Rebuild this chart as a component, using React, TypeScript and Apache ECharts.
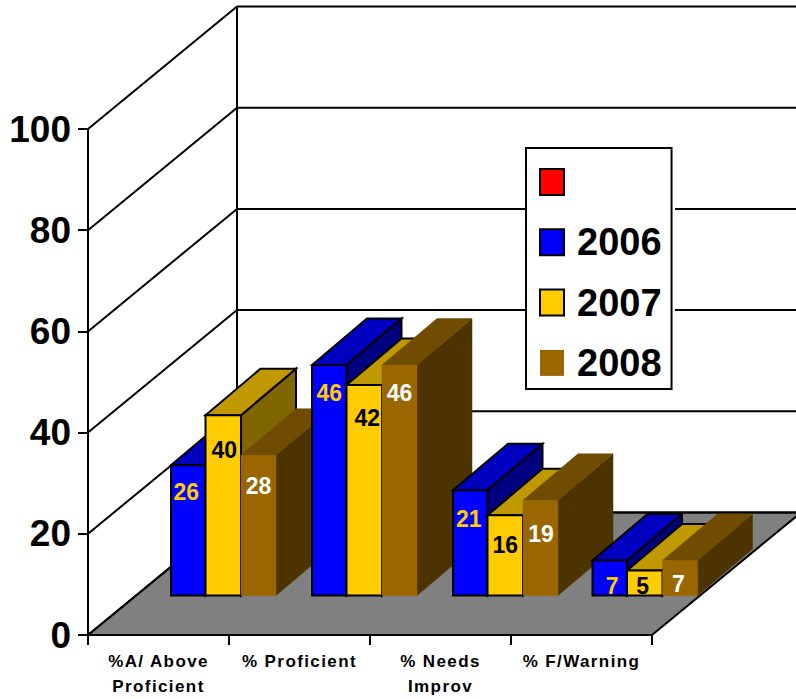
import React, { useEffect, useRef } from "react";
import * as echarts from "echarts";

const categories = ["%A/ Above\nProficient", "% Proficient", "% Needs\nImprov", "% F/Warning"];
const legendBlank = " ";
const seriesNames = ["2006", "2007", "2008"];
const values2006 = [26, 46, 21, 7];
const values2007 = [36, 42, 16, 5];
const values2008 = [28, 46, 19, 7];
const labels2006 = ["26", "46", "21", "7"];
const labels2007 = ["40", "42", "16", "5"];
const labels2008 = ["28", "46", "19", "7"];
const yTicks = [0, 20, 40, 60, 80, 100];

const seriesValues = [values2006, values2007, values2008];
const seriesLabels = [labels2006, labels2007, labels2008];

// Drawing constants
const FONT = "'Liberation Sans', Arial, sans-serif";
const WALL_DX = 149;
const WALL_DY = 122.5;
const BASE_DY = 39.5;
const BAR_DX = 55;
const BAR_DY = 46.5;
const BAR_SCALE = 0.99;
const BAR_START = [12.5, 47, 82.5];
const BAR_W = [34.5, 35.5, 35];
const CAT_NUDGE = [0, 0, 0, -1.5];
const palette = [
  { front: "#0000FF", top: "#0000C0", side: "#000080", stroke: "#000", text: "#FFCC00" },
  { front: "#FFCC00", top: "#C09900", side: "#806600", stroke: "#000", text: "#000" },
  { front: "#996600", top: "#704C00", side: "#4D3300", stroke: null, text: "#fff" },
];
const LABEL_DROP = [
  [27, 28, 29, 26],
  [35, 33, 30, 16],
  [31, 28, 34, 24],
];
const LABEL_DX = [
  [-2, 0, -1.5, 2.5],
  [1, 3, 0, -2],
  [0, 0, 0.5, -1.5],
];

function floorAndWall(params: any, api: any) {
  const v = api.value(1);
  const y = api.coord([0, v])[1];
  const cs = params.coordSys;
  const left = cs.x;
  const right = cs.x + cs.width;
  const children: any[] = [];
  if (v === 0) {
    children.push({
      type: "polygon",
      z2: 1,
      shape: {
        points: [
          [left, y],
          [right, y],
          [right + WALL_DX, y - WALL_DY],
          [left + WALL_DX, y - WALL_DY],
        ],
      },
      style: { fill: "#808080", stroke: "#000", lineWidth: 2 },
      silent: true,
    });
    children.push({
      type: "line",
      z2: 3,
      shape: { x1: left + WALL_DX, y1: y - WALL_DY, x2: left + WALL_DX, y2: cs.y - WALL_DY },
      style: { stroke: "#000", lineWidth: 2 },
      silent: true,
    });
  }
  children.push({
    type: "line",
    z2: 2,
    shape: { x1: left, y1: y, x2: left + WALL_DX, y2: y - WALL_DY },
    style: { stroke: "#000", lineWidth: 2 },
    silent: true,
  });
  children.push({
    type: "line",
    z2: 2,
    shape: { x1: left + WALL_DX, y1: y - WALL_DY, x2: right + WALL_DX, y2: y - WALL_DY },
    style: { stroke: "#000", lineWidth: 2 },
    silent: true,
  });
  return { type: "group", children };
}

function barRenderer(s: number) {
  return (_params: any, api: any) => {
    const cat = api.value(0);
    const val = api.value(1);
    const p0 = api.coord([cat, 0]);
    const p1 = api.coord([cat, val * BAR_SCALE]);
    const base = p0[1] - BASE_DY;
    const top = p1[1] - BASE_DY;
    const l = p0[0] + BAR_START[s] + CAT_NUDGE[cat];
    const r = l + BAR_W[s];
    const c = palette[s];
    const z = 10 + cat * 20 + s * 5;
    const stroke = c.stroke;
    const lw = stroke ? 2 : 0;
    return {
      type: "group",
      silent: true,
      children: [
        {
          type: "polygon",
          z2: z,
          shape: { points: [[r, top], [r + BAR_DX, top - BAR_DY], [r + BAR_DX, base - BAR_DY], [r, base]] },
          style: { fill: c.side, stroke: stroke || c.side, lineWidth: stroke ? lw : 0.5 },
        },
        {
          type: "polygon",
          z2: z + 1,
          shape: { points: [[l, top], [l + BAR_DX, top - BAR_DY], [r + BAR_DX, top - BAR_DY], [r, top]] },
          style: { fill: c.top, stroke: stroke || c.top, lineWidth: stroke ? lw : 0.5 },
        },
        {
          type: "rect",
          z2: z + 2,
          shape: { x: l, y: top, width: r - l, height: base - top },
          style: { fill: c.front, stroke: stroke || c.front, lineWidth: stroke ? lw : 0.5 },
        },
        {
          type: "text",
          z2: z + 3,
          style: {
            text: seriesLabels[s][cat],
            x: (l + r) / 2 + LABEL_DX[s][cat],
            y: top + LABEL_DROP[s][cat],
            fill: c.text,
            font: `bold 23px ${FONT}`,
            align: "center",
            verticalAlign: "middle",
          },
        },
      ],
    };
  };
}

export default function App() {
  const ref = useRef<HTMLDivElement>(null);
  useEffect(() => {
    const chart = echarts.init(ref.current!, null, { renderer: "svg" });
    chart.setOption({
      animation: false,
      backgroundColor: "#fff",
      grid: { left: 88, right: 144, top: 129, bottom: 62, containLabel: false },
      xAxis: {
        type: "category",
        data: categories,
        boundaryGap: true,
        axisLine: { show: true, lineStyle: { color: "#000", width: 2 } },
        axisTick: { show: true, interval: 0, alignWithLabel: false, length: 10, lineStyle: { color: "#000", width: 2 } },
        axisLabel: {
          interval: 0,
          margin: 14,
          color: "#000",
          fontFamily: FONT,
          fontWeight: "bold",
          fontSize: 17,
          lineHeight: 25,
        },
        splitLine: { show: false },
      },
      yAxis: {
        type: "value",
        min: 0,
        max: 100,
        interval: 20,
        axisLine: { show: true, lineStyle: { color: "#000", width: 2 } },
        axisTick: { show: true, length: 10, lineStyle: { color: "#000", width: 2 } },
        axisLabel: { margin: 17, color: "#000", fontFamily: FONT, fontWeight: "bold", fontSize: 37 },
        splitLine: { show: false },
      },
      legend: {
        show: true,
        orient: "vertical",
        left: 526,
        top: 148,
        z: 10,
        padding: [15, 10, 7, 13],
        backgroundColor: "#fff",
        borderColor: "#000",
        borderWidth: 2,
        icon: "rect",
        itemWidth: 24,
        itemHeight: 26,
        itemGap: 22.3,
        selectedMode: false,
        data: [legendBlank, ...seriesNames],
        textStyle: { color: "#000", fontFamily: FONT, fontWeight: "bold", fontSize: 38, padding: [0, 0, 0, 8] },
      },
      graphic: [
        {
          type: "rect",
          z: 9,
          silent: true,
          shape: { x: 672, y: 148, width: 3, height: 241 },
          style: { fill: "#fff" },
        },
      ],
      series: [
        {
          type: "custom",
          name: "wall",
          coordinateSystem: "cartesian2d",
          renderItem: floorAndWall,
          encode: { x: 0, y: 1 },
          data: yTicks.map((v) => [0, v]),
          silent: true,
          clip: false,
          z: 2,
        },
        {
          type: "custom",
          name: legendBlank,
          coordinateSystem: "cartesian2d",
          renderItem: () => null,
          encode: { x: 0, y: 1 },
          data: [],
          itemStyle: { color: "#FF0000", borderColor: "#000", borderWidth: 2 },
          z: 2,
        },
        ...seriesNames.map((name, s) => ({
          type: "custom",
          name,
          coordinateSystem: "cartesian2d",
          renderItem: barRenderer(s),
          encode: { x: 0, y: 1 },
          data: seriesValues[s].map((v, i) => [i, v]),
          itemStyle: {
            color: palette[s].front,
            borderColor: palette[s].stroke || palette[s].front,
            borderWidth: palette[s].stroke ? 2 : 0,
          },
          silent: true,
          clip: false,
          z: 2,
        })),
      ],
    });
    chart
      .getDom()
      .querySelectorAll("text")
      .forEach((t: any) => {
        const st = t.getAttribute("style") || "";
        if (st.includes("17px")) t.style.letterSpacing = "1.4px";
      });
    return () => chart.dispose();
  }, []);
  return <div ref={ref} style={{ position: "fixed", left: 0, top: 0, width: 796, height: 699 }} />;
}
